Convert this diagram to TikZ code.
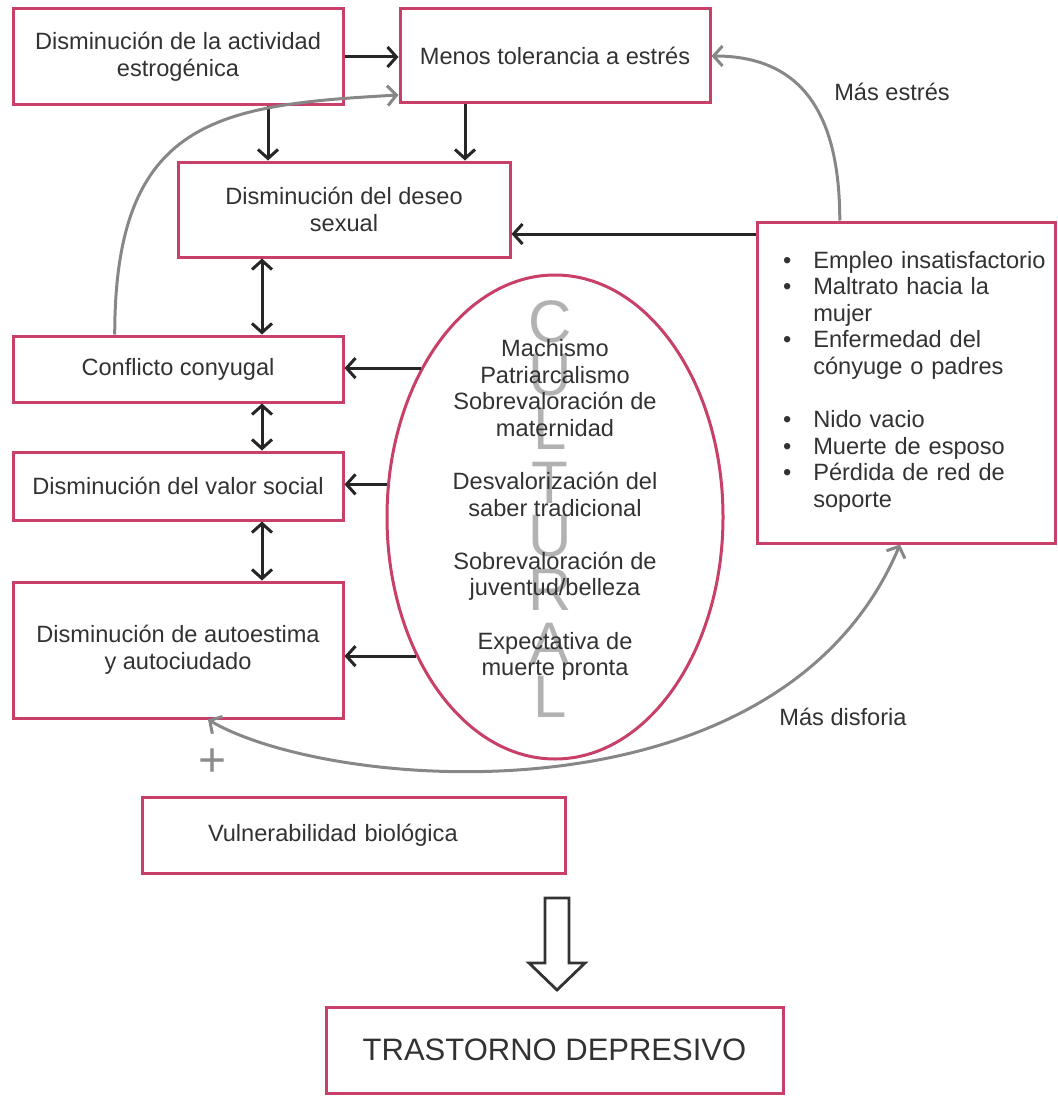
\documentclass[tikz,border=0pt]{standalone}
\usepackage{fontspec}
\setmainfont{Liberation Sans}
\usepackage{xcolor}
\usepackage{tikz}
\usetikzlibrary{shapes, arrows.meta, positioning, calc}

\definecolor{rosa}{RGB}{200,64,104}
\definecolor{texto}{RGB}{50,50,50}
\definecolor{grisflecha}{RGB}{135,135,135}

\begin{document}
\begin{tikzpicture}[x=0.5pt, y=-0.5pt,
        every node/.style={font=\fontsize{11.8}{13.3}\selectfont, text=texto},
        caja/.style={draw=rosa, line width=1.5pt, rectangle, align=center, inner sep=0pt},
        flecha/.style={line width=1.5pt, draw=black!85, -{Straight Barb[length=4.5pt,width=10pt]}},
        doble/.style={flecha, {Straight Barb[length=4.5pt,width=10pt]}-{Straight Barb[length=4.5pt,width=10pt]}},
        curva/.style={line width=1.5pt, draw=grisflecha, -{Straight Barb[length=4.5pt,width=10pt]}},
        letra/.style={font=\fontsize{30}{30}\selectfont, text=black!30}]
    \useasboundingbox (0,0) rectangle (1057,1097);

    \node[caja, minimum width=165pt, minimum height=48pt] (estrog) at (178,57) {Disminución de la actividad\\estrogénica};
    \node[caja, minimum width=155pt, minimum height=47pt] (estres) at (555,56) {Menos tolerancia a estrés};
    \node[caja, minimum width=166pt, minimum height=47.5pt] (deseo) at (344,209.5) {Disminución del deseo\\sexual};
    \node[caja, minimum width=165pt, minimum height=33pt] (conflicto) at (178,369) {Conflicto conyugal};
    \node[caja, minimum width=165pt, minimum height=34pt] (valor) at (178,486) {Disminución del valor social};
    \node[caja, minimum width=165pt, minimum height=68pt] (autoest) at (178,650) {Disminución de autoestima\\y autociudado};
    \node[caja, align=left, inner xsep=33pt, text width=145.5pt, minimum height=38pt] (vulner) at (353.5,835) {Vulnerabilidad biológica};
    \node[caja, minimum width=228.5pt, minimum height=43pt, font=\fontsize{15.5}{18}\selectfont] (trastorno) at (554.5,1050) {TRASTORNO DEPRESIVO};

    \node[caja, align=left, inner xsep=13pt, text width=123pt, minimum height=160.5pt] (factores) at (906,382.5) {%
        \begin{tabular}{@{}l@{\hspace{11pt}}l@{}}
            \textbullet & Empleo insatisfactorio \\
            \textbullet & Maltrato hacia la \\
                        & mujer \\
            \textbullet & Enfermedad del \\
                        & cónyuge o padres \\
                        & \\
            \textbullet & Nido vacio \\
            \textbullet & Muerte de esposo \\
            \textbullet & Pérdida de red de \\
                        & soporte
        \end{tabular}};

    \foreach \letra [count=\i] in {C,U,L,T,U,R,A,L}
        \node[letra] (cul\i) at (550, {322+53.6*(\i-1)}) {\letra};
    \node[draw=rosa, line width=1.5pt, ellipse, minimum width=168pt, minimum height=242pt, inner sep=0pt] (cultura) at (555,517) {};
    \node[align=center] (valores) at (555,510) {Machismo\\Patriarcalismo\\Sobrevaloración de\\maternidad\\[13.3pt]Desvalorización del\\saber tradicional\\[13.3pt]Sobrevaloración de\\juventud/belleza\\[13.3pt]Expectativa de\\muerte pronta};

    \coordinate (ejeA) at (268,0);
    \coordinate (ejeB) at (465,0);
    \coordinate (eje) at (262,0);
    \coordinate (nivelR) at (0,234);

    \draw[flecha] (estrog.east) -- (estrog.east -| estres.west);
    \draw[flecha] (estrog.south -| ejeA) -- (deseo.north -| ejeA);
    \draw[flecha] (estres.south -| ejeB) -- (deseo.north -| ejeB);
    \draw[doble] (deseo.south -| eje) -- (conflicto.north -| eje);
    \draw[doble] (conflicto.south -| eje) -- (valor.north -| eje);
    \draw[doble] (valor.south -| eje) -- (autoest.north -| eje);
    \draw[flecha] (factores.west |- nivelR) -- (deseo.east |- nivelR);
    \draw[flecha] (cultura.132.4) -- (cultura.132.4 -| conflicto.east);
    \draw[flecha] (cultura.169.8) -- (cultura.169.8 -| valor.east);
    \draw[flecha] (cultura.225.9) -- (cultura.225.9 -| autoest.east);

    \draw[curva] ($(factores.north west)!0.28!(factores.north east)$) .. controls +(0,-110) and +(88,0) .. (estres.east);
    \draw[curva] ($(conflicto.north west)!0.31!(conflicto.north east)$) .. controls +(0,-216) and +(-180,10) .. ([yshift=-19.5pt]estres.west);
    \draw[curva, {Straight Barb[length=4.5pt,width=10pt]}-{Straight Barb[length=4.5pt,width=10pt]}] ($(autoest.south west)!0.59!(autoest.south east)$) .. controls +(122,72) and +(-120,285) .. ($(factores.south west)!0.48!(factores.south east)$);

    \node (masestres) at (892,92) {Más estrés};
    \node (masdisforia) at (843,717) {Más disforia};
    \node[font=\fontsize{24}{24}\selectfont, text=black!45] (mas) at (213,763) {+};

    \draw[line width=1.4pt, draw=black!80] (545,898) -- (569,898) -- (569,963) -- (585,963) -- (557,990) -- (529,963) -- (545,963) -- cycle;
\end{tikzpicture}
\end{document}
